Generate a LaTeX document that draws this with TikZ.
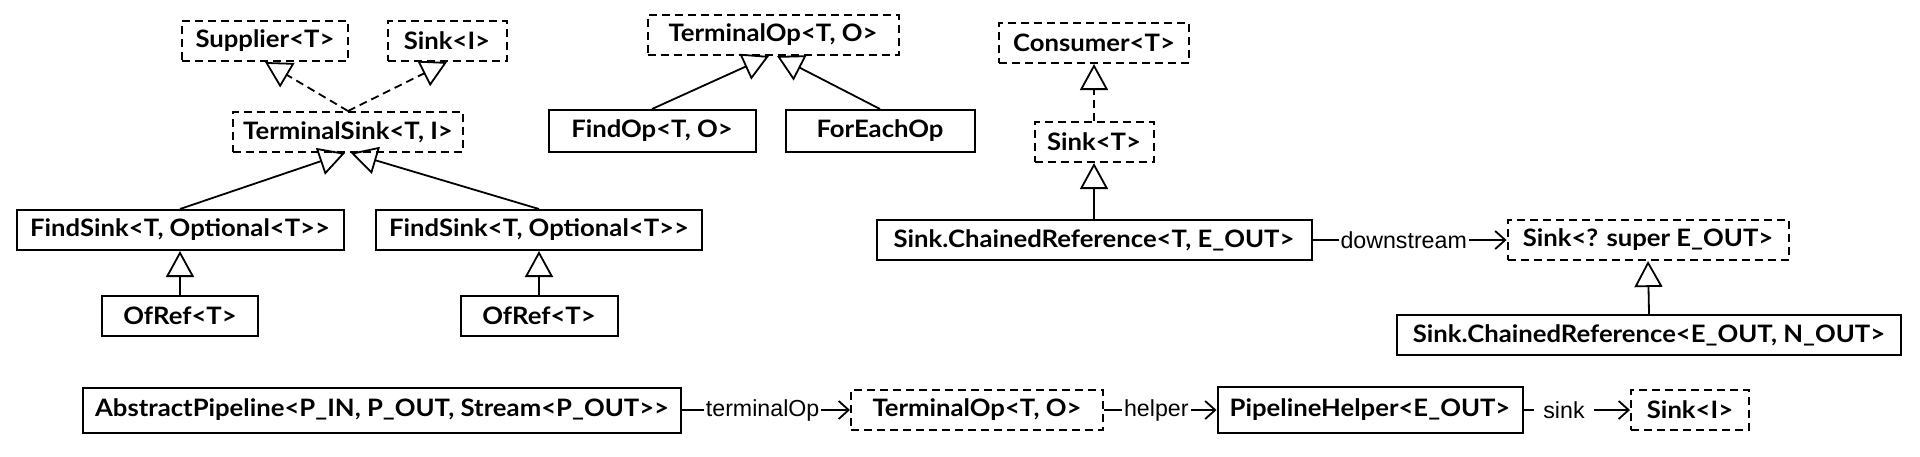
\documentclass[tikz,border=0pt]{standalone}
\usepackage{fontspec}
\usetikzlibrary{arrows.meta}
\newfontfamily\boxfont{Lato}[FakeStretch=1.07]
\newfontfamily\lblfont{Liberation Sans}
\tikzset{
  cls/.style={draw, line width=1pt, minimum height=20pt, inner sep=0pt, font=\boxfont\bfseries\fontsize{12}{14}\selectfont, anchor=center},
  iface/.style={cls, dash pattern=on 4pt off 2.5pt},
  realize/.style={line width=0.9pt, -{Triangle[open, length=13pt, width=14pt, line width=0.9pt]}},
  assoc/.style={line width=0.9pt, -{Straight Barb[length=5pt, width=9pt, line width=0.9pt]}},
  lbl/.style={fill=white, inner ysep=1pt, inner xsep=1pt, font=\lblfont\fontsize{11.6}{13}\selectfont}
}
\begin{document}
\begin{tikzpicture}[x=0.5pt, y=-0.5pt]
\useasboundingbox (0,0) rectangle (1920,456);
% top-left group
\node[iface, minimum width=83pt] (sup) at (265,41) {Supplier<T>};
\node[iface, minimum width=59.5pt] (sinkI) at (447,41) {Sink<I>};
\node[iface, minimum width=115pt] (tsink) at (348,132) {TerminalSink<T, I>};
\node[cls, minimum width=163.5pt] (fs1) at (180,230) {FindSink<T, Optional<T>>};
\node[cls, minimum width=163pt] (fs2) at (539,230) {FindSink<T, Optional<T>>};
\node[cls, minimum width=78pt] (or1) at (180,316) {OfRef<T>};
\node[cls, minimum width=78.5pt] (or2) at (539,316) {OfRef<T>};
% TerminalOp group
\node[iface, minimum width=125.5pt] (top1) at (773,35) {TerminalOp<T, O>};
\node[cls, minimum width=103.5pt, minimum height=21pt] (findop) at (652,131) {FindOp<T, O>};
\node[cls, minimum width=94.5pt, minimum height=21pt] (foreach) at (880,131) {ForEachOp};
% Sink group
\node[iface, minimum width=95pt] (cons) at (1094,43) {Consumer<T>};
\node[iface, minimum width=59.5pt] (sinkT) at (1094,142) {Sink<T>};
\node[cls, minimum width=217.5pt] (cr1) at (1094,240) {Sink.ChainedReference<T, E\_OUT>};
\node[iface, minimum width=140.5pt] (ssup) at (1648,240) {Sink<? super E\_OUT>};
\node[cls, minimum width=252pt] (cr2) at (1649,335) {Sink.ChainedReference<E\_OUT, N\_OUT>};
% bottom row
\node[cls, minimum width=299pt, minimum height=22.5pt] (ap) at (382,410) {AbstractPipeline<P\_IN, P\_OUT, Stream<P\_OUT>>};
\node[iface, minimum width=126pt] (top2) at (977,410) {TerminalOp<T, O>};
\node[cls, minimum width=152.5pt, minimum height=23pt] (ph) at (1370,410) {PipelineHelper<E\_OUT>};
\node[iface, minimum width=59pt] (sinkI2) at (1690,410) {Sink<I>};
% realizations / generalizations
\draw[realize, dash pattern=on 4pt off 2.5pt] (tsink.north) -- (sup.south);
\draw[realize, dash pattern=on 4pt off 2.5pt] (tsink.north) -- (sinkI.south);
\draw[realize] (fs1.north) -- ([xshift=-1.5pt]tsink.south);
\draw[realize] (fs2.north) -- ([xshift=1.5pt]tsink.south);
\draw[realize] (or1.north) -- (fs1.south);
\draw[realize] (or2.north) -- (fs2.south);
\draw[realize] (findop.north) -- ([xshift=-2pt]top1.south);
\draw[realize] (foreach.north) -- ([xshift=2pt]top1.south);
\draw[realize, dash pattern=on 4pt off 2.5pt] (sinkT.north) -- (cons.south);
\draw[realize] (cr1.north) -- (sinkT.south);
\draw[realize] (cr2.north) -- (ssup.south);
% associations
\draw[assoc] (cr1.east) -- node[lbl, pos=0.47] {downstream} (ssup.west);
\draw[assoc] (ap.east) -- node[lbl, pos=0.48] {terminalOp} (top2.west);
\draw[assoc] (top2.east) -- node[lbl, pos=0.465] {helper} (ph.west);
\draw[assoc] (ph.east) -- node[lbl, pos=0.38, inner xsep=4.5pt] {sink} (sinkI2.west);
\end{tikzpicture}
\end{document}
